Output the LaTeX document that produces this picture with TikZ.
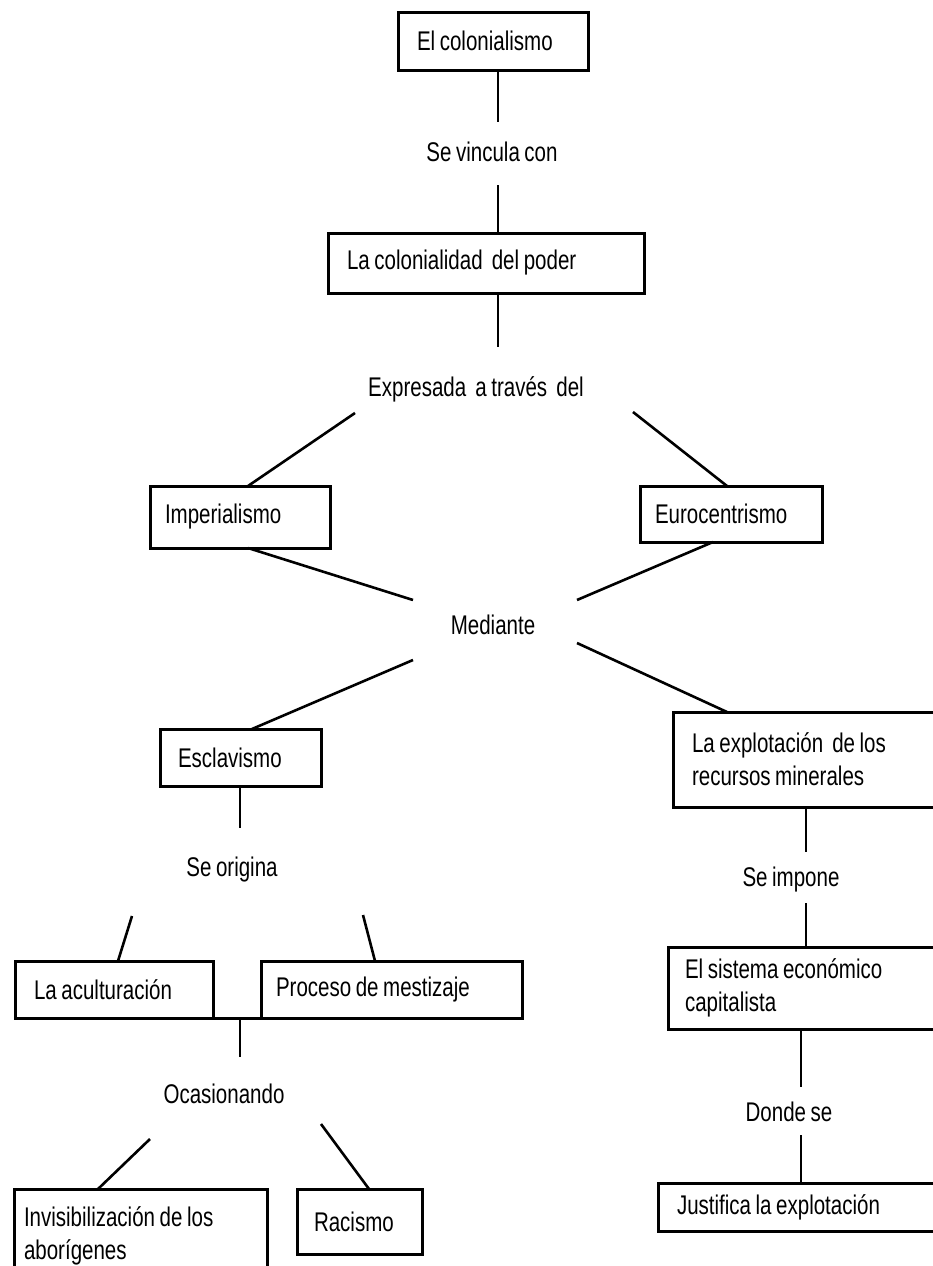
\documentclass[tikz,border=0pt]{standalone}
\usepackage{fontspec}
\setmainfont{Liberation Sans}[FakeStretch=0.76,WordSpace=0.8]
\usetikzlibrary{calc}
\tikzset{
  cbox/.style={draw, line width=3pt, rectangle, anchor=north west, align=flush left,
    inner ysep=0pt, outer sep=0pt, font=\fontsize{27}{33}\selectfont},
  lbl/.style={inner sep=0pt, outer sep=0pt, font=\fontsize{27}{33}\selectfont,
    text height=19pt, text depth=0pt},
  conn/.style={line width=2.6pt}
}
\newcommand\cbx[7]{%
  \pgfmathsetlengthmacro\cbxtw{#4-#2-2*#6}%
  \pgfmathsetlengthmacro\cbxw{#4-#2}%
  \pgfmathsetlengthmacro\cbxh{#5-#3}%
  \node[cbox, inner xsep=#6pt, text width=\cbxtw, minimum width=\cbxw, minimum height=\cbxh] (#1) at (#2,#3) {#7};}
\begin{document}
\begin{tikzpicture}[x=1pt,y=-1pt]
\useasboundingbox (0,0) rectangle (932,1266);
\fill[white] (0,0) rectangle (932,1266);
% boxes
\cbx{colon}{398}{12}{588}{70}{19}{El colonialismo}
\cbx{colpod}{328}{233}{644}{293}{19}{La colonialidad~ del poder}
\cbx{imp}{150}{486}{330}{548}{15}{Imperialismo}
\cbx{euro}{640}{486}{822}{542}{15}{Eurocentrismo}
\cbx{escl}{160}{729}{321}{786}{18}{Esclavismo}
\cbx{expl}{673}{712}{945}{807}{19}{La explotación~ de los\\recursos minerales}
\cbx{acult}{15}{961}{213}{1018}{19}{La aculturación}
\cbx{mest}{261}{961}{522}{1018}{15}{Proceso de mestizaje}
\cbx{sist}{668}{947}{945}{1029}{17}{El sistema económico\\capitalista}
\cbx{invis}{14}{1189}{267}{1282}{10}{Invisibilización de los\\aborígenes}
\cbx{rac}{297}{1189}{422}{1254}{17}{Racismo}
\cbx{just}{658}{1183}{945}{1231}{19}{Justifica la explotación}
% labels
\node[lbl] (vinc) at (492,152) {Se vincula con};
\node[lbl] (expr) at (476,387) {Expresada~ a través~ del};
\node[lbl] (med) at (493,625) {Mediante};
\node[lbl] (orig) at (232,867) {Se origina};
\node[lbl] (ocas) at (224,1094) {Ocasionando};
\node[lbl] (impo) at (791,877) {Se impone};
\node[lbl] (donde) at (789,1112) {Donde se};
% free ends near labels
\coordinate (vincN) at (498,122);
\coordinate (vincS) at (498,185);
\coordinate (exprN) at (498,347);
\coordinate (exprSW) at (355,413);
\coordinate (exprSE) at (633,412);
\coordinate (medNW) at (413,600);
\coordinate (medNE) at (577,600);
\coordinate (medSW) at (413,660);
\coordinate (medSE) at (577,643);
\coordinate (origN) at (240,828);
\coordinate (origSW) at (132,916);
\coordinate (origSE) at (363,915);
\coordinate (join) at (240,1018);
\coordinate (ocasN) at (240,1057);
\coordinate (ocasSW) at (150,1139);
\coordinate (ocasSE) at (321,1124);
\coordinate (impoN) at (806,852);
\coordinate (impoS) at (806,903);
\coordinate (dondeN) at (801,1087);
\coordinate (dondeS) at (801,1135);
% connectors
\draw[conn] ([xshift=100pt]colon.south west) -- (vincN);
\draw[conn] (vincS) -- ([xshift=170pt]colpod.north west);
\draw[conn] ([xshift=170pt]colpod.south west) -- (exprN);
\draw[conn] (exprSW) -- ([xshift=98pt]imp.north west);
\draw[conn] (exprSE) -- ([xshift=87pt]euro.north west);
\draw[conn] ([xshift=98pt]imp.south west) -- (medNW);
\draw[conn] ([xshift=73pt]euro.south west) -- (medNE);
\draw[conn] (medSW) -- ([xshift=92pt]escl.north west);
\draw[conn] (medSE) -- ([xshift=54pt]expl.north west);
\draw[conn] ([xshift=80pt]escl.south west) -- (origN);
\draw[conn] (origSW) -- ([xshift=103pt]acult.north west);
\draw[conn] (origSE) -- ([xshift=114pt]mest.north west);
\draw[line width=3pt] (acult.south east) -- (mest.south west);
\draw[conn] (join) -- (ocasN);
\draw[conn] (ocasSW) -- ([xshift=84pt]invis.north west);
\draw[conn] (ocasSE) -- ([xshift=72pt]rac.north west);
\draw[conn] ([xshift=133pt]expl.south west) -- (impoN);
\draw[conn] (impoS) -- ([xshift=138pt]sist.north west);
\draw[conn] ([xshift=133pt]sist.south west) -- (dondeN);
\draw[conn] (dondeS) -- ([xshift=143pt]just.north west);
\end{tikzpicture}
\end{document}
